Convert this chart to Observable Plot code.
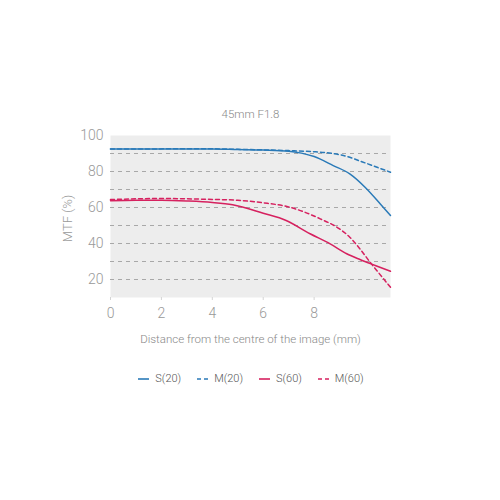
<!DOCTYPE html>
<html>
<head>
<meta charset="utf-8">
<script src="https://cdn.jsdelivr.net/npm/d3@7"></script>
<script src="https://cdn.jsdelivr.net/npm/@observablehq/plot@0.6"></script>
<style>
  html, body { margin: 0; padding: 0; background: #fff; }
  body { width: 500px; height: 500px; font-family: Roboto, "Liberation Sans", sans-serif; }
  #legend { display: flex; justify-content: center; align-items: center; gap: 16px; margin-top: 14px; font-size: 11px; color: #555; font-weight: 300; padding-left: 2px; }
  #legend .item { display: flex; align-items: center; gap: 6px; }
</style>
</head>
<body>
<div id="chart"></div>
<div id="legend"></div>
<script>
const title = "45mm F1.8";
const xLabel = "Distance from the centre of the image (mm)";
const yLabel = "MTF (%)";
const xTicks = [0, 2, 4, 6, 8];
const yTicks = [20, 40, 60, 80, 100];
const gridValues = [20, 30, 40, 50, 60, 70, 80, 90];

const seriesNames = ["S(20)", "M(20)", "S(60)", "M(60)"];
const seriesColors = ["#2a7ab8", "#2a7ab8", "#d6215f", "#d6215f"];
const seriesDashed = [false, true, false, true];

const s20x = [0, 3, 4, 5, 6, 7, 7.5, 8, 8.75, 9.4, 10, 10.6, 11];
const s20y = [92.5, 92.5, 92.5, 92.2, 91.9, 91.3, 90.2, 88.3, 83.3, 78.7, 71.3, 62, 55.6];
const m20x = [0, 4, 5, 6, 7, 8, 8.5, 9.15, 9.9, 10.5, 11];
const m20y = [92.5, 92.6, 92.3, 92, 91.6, 91, 90.4, 88.9, 85.3, 82.2, 79.6];
const s60x = [0, 1, 2, 3, 4, 4.8, 6, 6.9, 7.84, 8.63, 9.28, 9.8, 10.4, 11];
const s60y = [63.7, 64, 64, 63.6, 62.8, 61.5, 56.8, 52.8, 45.4, 39.8, 34.3, 31.1, 27.8, 24.6];
const m60x = [0, 1, 2, 3, 4, 5, 6, 7, 8.24, 9, 9.4, 9.8, 10.2, 10.46, 11];
const m60y = [64.4, 64.8, 65, 64.8, 64.5, 64, 62.6, 60.3, 53.7, 48.1, 43.5, 37, 29.6, 25, 15.7];

const xs = [s20x, m20x, s60x, m60x];
const ys = [s20y, m20y, s60y, m60y];
const rows = seriesNames.flatMap((name, i) => xs[i].map((x, j) => ({series: name, x, y: ys[i][j]})));

const font = "Roboto, 'Liberation Sans', sans-serif";

const lineMarks = seriesNames.map((name, i) =>
  Plot.line(rows.filter(d => d.series === name), {
    x: "x", y: "y", stroke: seriesColors[i], strokeWidth: 1.5,
    strokeDasharray: seriesDashed[i] ? "4,3" : null, curve: "monotone-x"
  })
);

const chart = Plot.plot({
  width: 500, height: 358,
  marginLeft: 110, marginRight: 110, marginTop: 135, marginBottom: 61,
  style: {fontFamily: font, fontSize: "14px", color: "#999", fontWeight: 300, background: "#fff"},
  x: {domain: [0, 11]},
  y: {domain: [10, 100]},
  marks: [
    Plot.frame({fill: "#ededed", stroke: null}),
    Plot.ruleY(gridValues, {stroke: "#a8a8a8", strokeWidth: 1, strokeDasharray: "4,4"}),
    ...lineMarks,
    Plot.axisX({ticks: xTicks, tickSize: 3, stroke: "#d4d4d4", tickPadding: 8, label: null, fill: "#999", fontSize: 14}),
    Plot.axisY({ticks: yTicks, tickSize: 0, tickPadding: 7, label: null, fill: "#999", fontSize: 14}),
    Plot.text([title], {frameAnchor: "top", lineAnchor: "middle", dy: -21.5, fill: "#888", fontSize: 11.5}),
    Plot.text([xLabel], {frameAnchor: "bottom", lineAnchor: "middle", dy: 42, fill: "#888", fontSize: 11.5}),
    Plot.text([yLabel], {frameAnchor: "left", lineAnchor: "middle", dx: -43, dy: 2, rotate: -90, textAnchor: "middle", fill: "#999", fontSize: 13})
  ]
});
document.getElementById("chart").append(chart);

const legend = document.getElementById("legend");
seriesNames.forEach((name, i) => {
  const item = document.createElement("div");
  item.className = "item";
  const dash = seriesDashed[i] ? 'stroke-dasharray="4,3"' : "";
  item.innerHTML = `<svg width="11" height="4"><line x1="0" x2="11" y1="2" y2="2" stroke="${seriesColors[i]}" stroke-width="1.6" ${dash}/></svg><span>${name}</span>`;
  legend.append(item);
});
</script>
</body>
</html>
